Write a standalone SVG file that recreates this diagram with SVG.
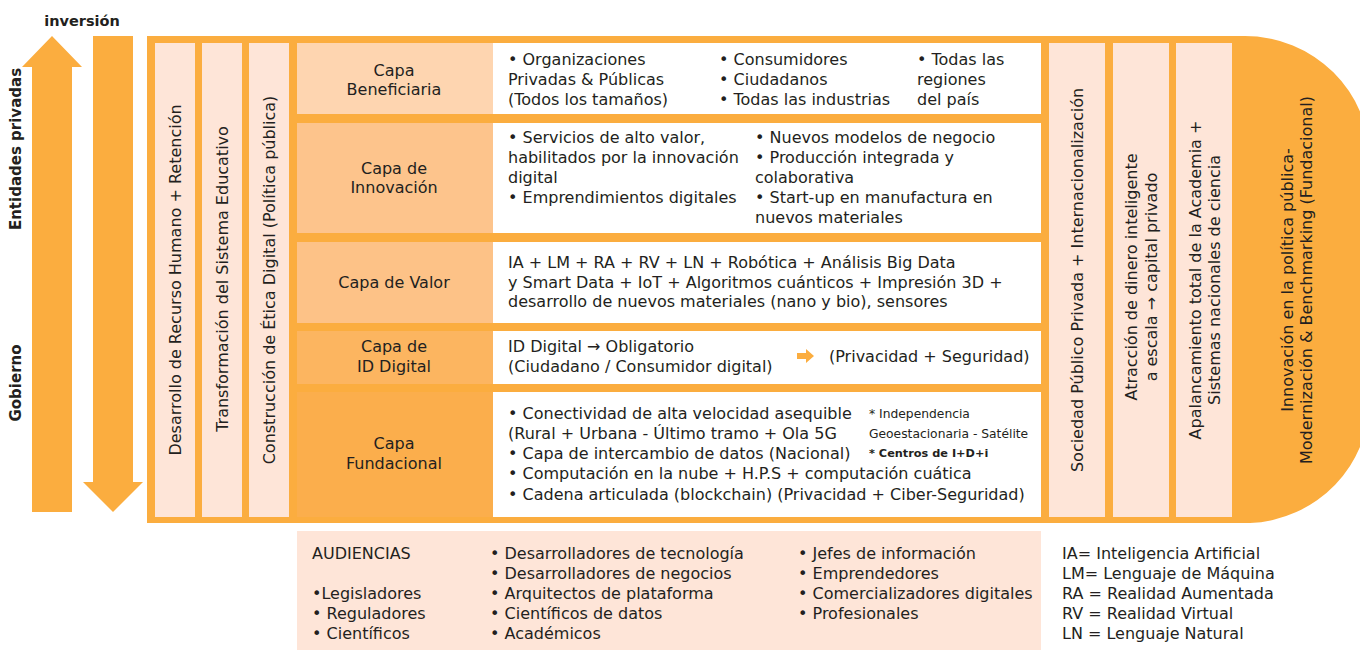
<svg xmlns="http://www.w3.org/2000/svg" width="1360" height="650" viewBox="0 0 1360 650">
<style>
text{font-family:"DejaVu Sans","Open Sans",sans-serif;fill:#231F20;}
.t{font-size:16px;}
.s{font-size:12.3px;}
.sb{font-size:11.3px;font-weight:bold;}
.b{font-weight:bold;}
.c{text-anchor:middle;}
.or{fill:#FBAD3F;}
.pale{fill:#FEE5D8;}
.white{fill:#FFFFFF;}
</style>
<rect width="1360" height="650" fill="#FFFFFF"/>
<g id="arrows">
<polygon class="or" points="52,36 82,67 72,67 72,512 32,512 32,67 22,67"/>
<polygon class="or" points="93,36 133,36 133,482 143,482 113,512 83,482 93,482"/>
<text class="b c" x="82" y="26" style="font-size:14.5px">inversión</text>
<text class="b c" transform="translate(21,149) rotate(-90)" style="font-size:15px">Entidades privadas</text>
<text class="b c" transform="translate(21,383) rotate(-90)" style="font-size:15px">Gobierno</text>
</g>
<g id="frame">
<path class="or" d="M147,36 H1245 A125,124 0 0 1 1370,160 V398 A125,125 0 0 1 1250,523 H147 Z"/>
</g>
<g id="left-columns">
<rect class="pale" x="155" y="43" width="40" height="474"/>
<rect class="pale" x="202" y="43" width="40" height="474"/>
<rect class="pale" x="249" y="43" width="40" height="474"/>
<text class="t c" transform="translate(175,280) rotate(-90)" y="6">Desarrollo de Recurso Humano + Retención</text>
<text class="t c" transform="translate(222,279) rotate(-90)" y="6">Transformación del Sistema Educativo</text>
<text class="t c" transform="translate(269,280) rotate(-90)" y="6">Construcción de Ética Digital (Política pública)</text>
</g>
<g id="capa-beneficiaria">
<rect x="297" y="43" width="196" height="71" fill="#FED5B0"/>
<rect class="white" x="493" y="43" width="548" height="71"/>
<text class="t c" x="394" y="76">Capa</text>
<text class="t c" x="394" y="95">Beneficiaria</text>
<text class="t" x="508" y="65">• Organizaciones</text>
<text class="t" x="508" y="85">Privadas &amp; Públicas</text>
<text class="t" x="508" y="105">(Todos los tamaños)</text>
<text class="t" x="719" y="65">• Consumidores</text>
<text class="t" x="719" y="85">• Ciudadanos</text>
<text class="t" x="719" y="105">• Todas las industrias</text>
<text class="t" x="917" y="65">• Todas las</text>
<text class="t" x="917" y="85">regiones</text>
<text class="t" x="917" y="105">del país</text>
</g>
<g id="capa-innovacion">
<rect x="297" y="123" width="196" height="110" fill="#FDC48C"/>
<rect class="white" x="493" y="123" width="548" height="110"/>
<text class="t c" x="394" y="174">Capa de</text>
<text class="t c" x="394" y="193">Innovación</text>
<text class="t" x="508" y="143">• Servicios de alto valor,</text>
<text class="t" x="508" y="163">habilitados por la innovación</text>
<text class="t" x="508" y="183">digital</text>
<text class="t" x="508" y="203">• Emprendimientos digitales</text>
<text class="t" x="755" y="143">• Nuevos modelos de negocio</text>
<text class="t" x="755" y="163">• Producción integrada y</text>
<text class="t" x="755" y="183">colaborativa</text>
<text class="t" x="755" y="203">• Start-up en manufactura en</text>
<text class="t" x="755" y="223">nuevos materiales</text>
</g>
<g id="capa-valor">
<rect x="297" y="242" width="196" height="81" fill="#FDC287"/>
<rect class="white" x="493" y="242" width="548" height="81"/>
<text class="t c" x="394" y="288">Capa de Valor</text>
<text class="t" x="508" y="268">IA + LM + RA + RV + LN + Robótica + Análisis Big Data</text>
<text class="t" x="508" y="288">y Smart Data + IoT + Algoritmos cuánticos + Impresión 3D +</text>
<text class="t" x="508" y="307">desarrollo de nuevos materiales (nano y bio), sensores</text>
</g>
<g id="capa-id-digital">
<rect x="297" y="331" width="196" height="53" fill="#FCB560"/>
<rect class="white" x="493" y="331" width="548" height="53"/>
<text class="t c" x="394" y="352">Capa de</text>
<text class="t c" x="394" y="372">ID Digital</text>
<text class="t" x="508" y="352">ID Digital → Obligatorio</text>
<text class="t" x="508" y="372">(Ciudadano / Consumidor digital)</text>
<polygon class="or" points="797,353 806,353 806,349 814,356 806,363 806,359 797,359"/>
<text class="t" x="829" y="362">(Privacidad + Seguridad)</text>
</g>
<g id="capa-fundacional">
<rect x="297" y="392" width="196" height="125" fill="#FBAE4C"/>
<rect class="white" x="493" y="392" width="548" height="125"/>
<text class="t c" x="394" y="449">Capa</text>
<text class="t c" x="394" y="469">Fundacional</text>
<text class="t" x="508" y="419">• Conectividad de alta velocidad asequible</text>
<text class="t" x="508" y="439">(Rural + Urbana - Último tramo + Ola 5G</text>
<text class="t" x="508" y="459">• Capa de intercambio de datos (Nacional)</text>
<text class="t" x="508" y="479">• Computación en la nube + H.P.S + computación cuática</text>
<text class="t" x="508" y="500">• Cadena articulada (blockchain) (Privacidad + Ciber-Seguridad)</text>
<text class="s" x="869" y="418">* Independencia</text>
<text class="s" x="869" y="438">Geoestacionaria - Satélite</text>
<text class="sb" x="869" y="457">* Centros de I+D+i</text>
</g>
<g id="right-columns">
<rect class="pale" x="1049" y="43" width="56" height="474"/>
<rect class="pale" x="1113" y="43" width="56" height="474"/>
<rect class="pale" x="1176" y="43" width="56" height="474"/>
<text class="t c" transform="translate(1077,280) rotate(-90)" y="6">Sociedad Público Privada + Internacionalización</text>
<text class="t c" transform="translate(1131,277) rotate(-90)" y="6">Atracción de dinero inteligente</text>
<text class="t c" transform="translate(1151,277) rotate(-90)" y="6">a escala → capital privado</text>
<text class="t c" transform="translate(1195,280) rotate(-90)" y="6">Apalancamiento total de la Academia +</text>
<text class="t c" transform="translate(1214,280) rotate(-90)" y="6">Sistemas nacionales de ciencia</text>
</g>
<g id="innovacion-politica">
<text class="t c" transform="translate(1287,280) rotate(-90)" y="6">Innovación en la política pública-</text>
<text class="t c" transform="translate(1306,280) rotate(-90)" y="6">Modernización &amp; Benchmarking (Fundacional)</text>
</g>
<g id="audiencias">
<rect class="pale" x="297" y="531" width="744" height="119"/>
<text class="t" x="312" y="559">AUDIENCIAS</text>
<text class="t" x="312" y="599">•Legisladores</text>
<text class="t" x="312" y="619">• Reguladores</text>
<text class="t" x="312" y="639">• Científicos</text>
<text class="t" x="490" y="559">• Desarrolladores de tecnología</text>
<text class="t" x="490" y="579">• Desarrolladores de negocios</text>
<text class="t" x="490" y="599">• Arquitectos de plataforma</text>
<text class="t" x="490" y="619">• Científicos de datos</text>
<text class="t" x="490" y="639">• Académicos</text>
<text class="t" x="798" y="559">• Jefes de información</text>
<text class="t" x="798" y="579">• Emprendedores</text>
<text class="t" x="798" y="599">• Comercializadores digitales</text>
<text class="t" x="798" y="619">• Profesionales</text>
</g>
<g id="legend">
<text class="t" x="1062" y="559">IA= Inteligencia Artificial</text>
<text class="t" x="1062" y="579">LM= Lenguaje de Máquina</text>
<text class="t" x="1062" y="599">RA = Realidad Aumentada</text>
<text class="t" x="1062" y="619">RV = Realidad Virtual</text>
<text class="t" x="1062" y="639">LN = Lenguaje Natural</text>
</g>
<g id="connectors"></g>
</svg>
